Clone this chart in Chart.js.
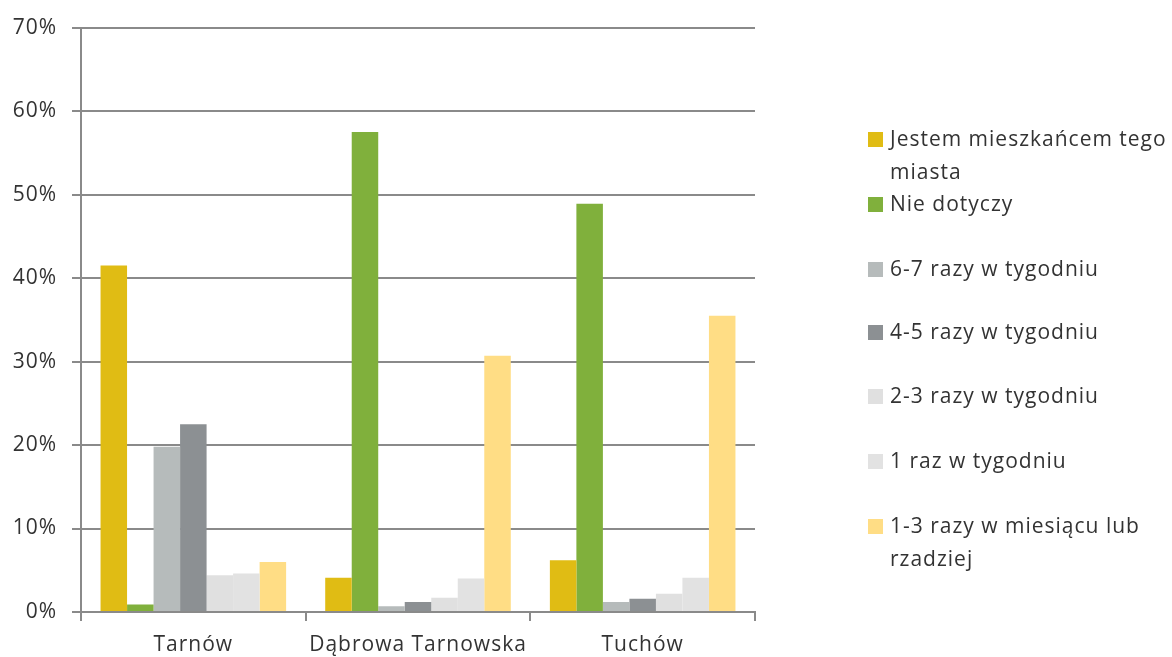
<!DOCTYPE html>
<html>
<head>
<meta charset="utf-8">
<script src="https://cdn.jsdelivr.net/npm/chart.js@4"></script>
<style>
  body { margin: 0; background: #fff; }
  #wrap { position: relative; width: 1172px; height: 657px; }
  #legend { position: absolute; left: 868px; top: 0; font-family: "Open Sans", sans-serif; font-size: 21px; letter-spacing: 1px; color: #333; }
  .item { position: absolute; left: 0; width: 304px; }
  .box { position: absolute; left: 0; top: 10px; width: 15px; height: 15px; }
  .txt { position: absolute; left: 22px; line-height: 33px; white-space: nowrap; }
</style>
</head>
<body>
<div id="wrap">
  <canvas id="chart" width="1172" height="657"></canvas>
  <div id="legend"></div>
</div>
<script>
const categories = ["Tarnów", "Dąbrowa Tarnowska", "Tuchów"];
const seriesNames = [
  ["Jestem mieszkańcem tego", "miasta"],
  ["Nie dotyczy"],
  ["6-7 razy w tygodniu"],
  ["4-5 razy w tygodniu"],
  ["2-3 razy w tygodniu"],
  ["1 raz w tygodniu"],
  ["1-3 razy w miesiącu lub", "rzadziej"]
];
const resident = [41.5, 4.1, 6.2];
const notApplicable = [0.9, 57.5, 48.9];
const times67 = [19.8, 0.7, 1.2];
const times45 = [22.5, 1.2, 1.6];
const times23 = [4.4, 1.7, 2.2];
const once = [4.6, 4.0, 4.1];
const monthly = [6.0, 30.7, 35.5];
const colors = ["#E0BC14", "#80B03C", "#B6BBBB", "#8C9093", "#E0E0E0", "#E2E2E2", "#FFDD85"];
const yTicks = [0, 10, 20, 30, 40, 50, 60, 70];

const values = [resident, notApplicable, times67, times45, times23, once, monthly];

const gridColor = "#8A8A8A";
const textColor = "#333";
const font = { family: "Open Sans", size: 21 };

// wider letter spacing for the axis labels
const spacing = {
  id: "spacing",
  beforeDraw: chart => { chart.ctx.letterSpacing = "1px"; }
};

new Chart(document.getElementById("chart"), {
  type: "bar",
  data: {
    labels: categories,
    datasets: values.map((v, i) => ({
      label: seriesNames[i].join(" "),
      data: v,
      backgroundColor: colors[i],
      borderWidth: 0,
      categoryPercentage: 0.826,
      barPercentage: 1
    }))
  },
  plugins: [spacing],
  options: {
    responsive: false,
    animation: false,
    layout: { padding: { top: 26, right: 417, left: 0, bottom: 0 } },
    plugins: { legend: { display: false }, tooltip: { enabled: false } },
    scales: {
      x: {
        offset: true,
        grid: { offset: true, drawOnChartArea: false, drawTicks: true, tickLength: 9, color: gridColor, lineWidth: 2 },
        border: { color: gridColor, width: 2 },
        ticks: { color: textColor, font: font, padding: 11 },
        afterFit: s => { s.height = 45; }
      },
      y: {
        min: 0,
        max: 70,
        afterBuildTicks: s => { s.ticks = yTicks.map(v => ({ value: v })); },
        grid: { color: gridColor, lineWidth: 2, tickLength: 9 },
        border: { color: gridColor, width: 2 },
        ticks: { color: textColor, font: font, padding: 15, callback: v => v + "%" },
        afterFit: s => { s.width = 81; }
      }
    }
  }
});

// legend on the right, one slot per series
const legend = document.getElementById("legend");
const slotTop = [122, 187, 252, 315, 379, 444, 509];
seriesNames.forEach((lines, i) => {
  const item = document.createElement("div");
  item.className = "item";
  item.style.top = slotTop[i] + "px";
  const box = document.createElement("div");
  box.className = "box";
  box.style.background = colors[i];
  const txt = document.createElement("div");
  txt.className = "txt";
  txt.innerHTML = lines.join("<br>");
  item.appendChild(box);
  item.appendChild(txt);
  legend.appendChild(item);
});
</script>
</body>
</html>
